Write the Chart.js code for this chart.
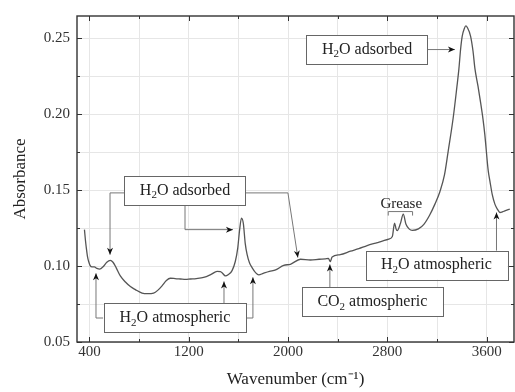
<!DOCTYPE html>
<html>
<head>
<meta charset="utf-8">
<script src="https://cdn.jsdelivr.net/npm/chart.js@4.4.1/dist/chart.umd.min.js"></script>
<style>
  html, body { margin: 0; padding: 0; background: #fff; }
</style>
</head>
<body>
<canvas id="chart1" width="515" height="392"></canvas>
<script>
// spectrum
const wavenumbers = [360, 368, 375, 385, 394, 405, 421, 440, 460, 482, 510, 540, 568, 590, 615, 649, 690, 730, 770, 824,
  870, 917, 950, 985, 1020, 1052, 1090, 1133, 1175, 1213, 1260, 1320, 1380, 1428, 1455, 1470, 1495, 1520, 1549, 1575,
  1595, 1610, 1625, 1640, 1655, 1670, 1690, 1710, 1740, 1764, 1800, 1850, 1900, 1965, 2019, 2100, 2180, 2250, 2301, 2325,
  2340, 2355, 2420, 2503, 2570, 2637, 2720, 2811, 2840, 2858, 2870, 2879, 2905, 2928, 2950, 2975, 3000, 3050, 3094, 3140,
  3183, 3223, 3260, 3290, 3330, 3360, 3376, 3390, 3403, 3420, 3432, 3445, 3470, 3490, 3505, 3530, 3551, 3570, 3585, 3612,
  3626, 3645, 3666, 3690, 3706, 3730, 3746, 3786];
const absorbance = [0.124, 0.117, 0.112, 0.106, 0.103, 0.1005, 0.0995, 0.0995, 0.0985, 0.098, 0.0995, 0.1025, 0.1037, 0.1025, 0.099, 0.0935, 0.0895, 0.0865, 0.0845, 0.0822,
  0.0818, 0.0822, 0.0840, 0.0870, 0.0905, 0.0920, 0.0918, 0.0915, 0.0912, 0.0915, 0.0918, 0.0925, 0.0945, 0.0965, 0.0963, 0.0955, 0.0935, 0.0945, 0.0970, 0.1030,
  0.112, 0.124, 0.1316, 0.128, 0.115, 0.1077, 0.102, 0.099, 0.0955, 0.0942, 0.0952, 0.0965, 0.0975, 0.1005, 0.1012, 0.1045, 0.1040, 0.1045, 0.1048, 0.1050,
  0.1030, 0.1060, 0.1075, 0.1098, 0.1115, 0.1135, 0.1155, 0.1178, 0.1195, 0.1283, 0.1245, 0.1233, 0.1280, 0.1342, 0.1275, 0.1245, 0.1235, 0.1245, 0.1275, 0.1335,
  0.1408, 0.1490, 0.1600, 0.1757, 0.1975, 0.2180, 0.2297, 0.2430, 0.2515, 0.2565, 0.2582, 0.2570, 0.2515, 0.2415, 0.2302, 0.2185, 0.2077, 0.1970, 0.1866, 0.1630,
  0.1560, 0.1470, 0.1408, 0.1370, 0.1353, 0.1358, 0.1364, 0.1375];

const xTicks = [400, 800, 1200, 1600, 2000, 2400, 2800, 3200, 3600];
const xLabels = [400, 1200, 2000, 2800, 3600];
const yTicks = [0.05, 0.075, 0.10, 0.125, 0.15, 0.175, 0.20, 0.225, 0.25];
const yLabels = ['0.05', '0.10', '0.15', '0.20', '0.25'];

const serif = '"Liberation Serif", "Times New Roman", serif';

// callouts: text pieces (sub = subscript), box centre in data units, leader lines ending in an arrow
const notes = [
  { parts: [['H'], ['2', 1], ['O adsorbed']], at: [1170, 0.1498],
    leaders: [[[686, 0.1482], [566, 0.1482], [566, 0.1075]],
              [[1170, 0.1403], [1170, 0.1240], [1556, 0.1240]],
              [[1653, 0.1482], [1999, 0.1482], [2079, 0.1056]]] },
  { parts: [['H'], ['2', 1], ['O atmospheric']], at: [1089, 0.0660],
    leaders: [[[510, 0.0658], [453, 0.0658], [453, 0.0952]],
              [[1484, 0.0755], [1484, 0.0899]],
              [[1669, 0.0658], [1717, 0.0658], [1717, 0.0926]]] },
  { parts: [['CO'], ['2', 1], [' atmospheric']], at: [2679, 0.0766],
    leaders: [[[2337, 0.0862], [2337, 0.1011]]] },
  { parts: [['H'], ['2', 1], ['O atmospheric']], at: [3195, 0.1006],
    leaders: [[[3679, 0.1100], [3679, 0.1353]]] },
  { parts: [['H'], ['2', 1], ['O adsorbed']], at: [2637, 0.2426],
    leaders: [[[3120, 0.2426], [3344, 0.2426]]] }
];

function arrowHead(ctx, x0, y0, x1, y1) {
  const a = Math.atan2(y1 - y0, x1 - x0);
  ctx.save();
  ctx.translate(x1, y1);
  ctx.rotate(a);
  ctx.beginPath();
  ctx.moveTo(0, 0);
  ctx.lineTo(-7, -3);
  ctx.lineTo(-5, 0);
  ctx.lineTo(-7, 3);
  ctx.closePath();
  ctx.fillStyle = '#111';
  ctx.fill();
  ctx.restore();
}

const decor = {
  id: 'decor',
  afterDatasetsDraw(chart) {
    const ctx = chart.ctx;
    const xs = chart.scales.x, ys = chart.scales.y;
    const { left, right, top, bottom } = chart.chartArea;
    const px = v => xs.getPixelForValue(v), py = v => ys.getPixelForValue(v);

    ctx.save();
    // frame
    ctx.strokeStyle = '#333';
    ctx.lineWidth = 1.4;
    ctx.strokeRect(left, top, right - left, bottom - top);
    // inward ticks
    ctx.lineWidth = 1;
    ctx.beginPath();
    xTicks.forEach(v => {
      const len = xLabels.includes(v) ? 5 : 3;
      const x = Math.round(px(v)) + 0.5;
      ctx.moveTo(x, bottom); ctx.lineTo(x, bottom - len);
      ctx.moveTo(x, top); ctx.lineTo(x, top + len);
    });
    yTicks.forEach((v, i) => {
      const len = i % 2 === 0 ? 5 : 3;
      const y = Math.round(py(v)) + 0.5;
      ctx.moveTo(left, y); ctx.lineTo(left + len, y);
      ctx.moveTo(right, y); ctx.lineTo(right - len, y);
    });
    ctx.stroke();

    // callouts
    const big = '16px ' + serif, small = '11px ' + serif;
    notes.forEach(n => {
      ctx.strokeStyle = '#777';
      ctx.lineWidth = 1;
      n.leaders.forEach(pts => {
        ctx.beginPath();
        pts.forEach((p, i) => {
          const x = px(p[0]), y = py(p[1]);
          if (i === 0) ctx.moveTo(x, y); else ctx.lineTo(x, y);
        });
        ctx.stroke();
        const a = pts[pts.length - 2], b = pts[pts.length - 1];
        arrowHead(ctx, px(a[0]), py(a[1]), px(b[0]), py(b[1]));
      });
      let w = 0;
      n.parts.forEach(p => { ctx.font = p[1] ? small : big; w += ctx.measureText(p[0]).width; });
      const cx = px(n.at[0]), cy = py(n.at[1]);
      const bw = w + 31, bh = 29;
      ctx.fillStyle = '#fff';
      ctx.fillRect(cx - bw / 2, cy - bh / 2, bw, bh);
      ctx.strokeStyle = '#666';
      ctx.strokeRect(Math.round(cx - bw / 2) + 0.5, Math.round(cy - bh / 2) + 0.5, Math.round(bw), bh);
      ctx.fillStyle = '#222';
      ctx.textBaseline = 'middle';
      ctx.textAlign = 'left';
      let x = cx - w / 2;
      n.parts.forEach(p => {
        ctx.font = p[1] ? small : big;
        ctx.fillText(p[0], x, cy + (p[1] ? 5 : 0));
        x += ctx.measureText(p[0]).width;
      });
    });

    // grease bracket
    const gx0 = px(2807), gx1 = px(3003), gy = py(0.1359);
    ctx.strokeStyle = '#777';
    ctx.beginPath();
    ctx.moveTo(gx0, gy + 4); ctx.lineTo(gx0, gy); ctx.lineTo(gx1, gy); ctx.lineTo(gx1, gy + 4);
    ctx.stroke();
    ctx.fillStyle = '#222';
    ctx.font = '15px ' + serif;
    ctx.textAlign = 'center';
    ctx.textBaseline = 'middle';
    ctx.fillText('Grease', px(2912), py(0.1410));
    ctx.restore();
  }
};

new Chart(document.getElementById('chart1').getContext('2d'), {
  type: 'line',
  data: {
    datasets: [{
      data: wavenumbers.map((w, i) => ({ x: w, y: absorbance[i] })),
      borderColor: '#555',
      borderWidth: 1.3,
      pointRadius: 0,
      cubicInterpolationMode: 'monotone',
      fill: false
    }]
  },
  options: {
    responsive: false,
    animation: false,
    layout: { padding: { top: 14, right: 1, bottom: 0, left: 0 } },
    plugins: { legend: { display: false }, tooltip: { enabled: false } },
    scales: {
      x: {
        type: 'linear', min: 300, max: 3820,
        afterBuildTicks: s => { s.ticks = xTicks.map(v => ({ value: v })); },
        afterFit: s => { s.height = 50; },
        ticks: {
          autoSkip: false, maxRotation: 0, padding: 1, color: '#333',
          font: { family: serif, size: 15 },
          callback: v => xLabels.includes(v) ? String(v) : ''
        },
        grid: { color: '#e6e6e6', drawTicks: false },
        border: { display: false },
        title: { display: true, text: 'Wavenumber (cm⁻¹)', color: '#222',
                 font: { family: serif, size: 17 }, padding: { top: 0, bottom: 2 } }
      },
      y: {
        type: 'linear', min: 0.05, max: 0.2647,
        afterBuildTicks: s => { s.ticks = yTicks.map(v => ({ value: v })); },
        afterFit: s => { s.width = 77; },
        ticks: {
          autoSkip: false, padding: 7, color: '#333',
          font: { family: serif, size: 15 },
          callback: (v, i) => i % 2 === 0 ? yLabels[i / 2] : ''
        },
        grid: { color: '#e6e6e6', drawTicks: false },
        border: { display: false },
        title: { display: true, text: 'Absorbance', color: '#222',
                 font: { family: serif, size: 17 }, padding: { top: 10, bottom: 0 } }
      }
    }
  },
  plugins: [decor]
});
</script>
</body>
</html>
